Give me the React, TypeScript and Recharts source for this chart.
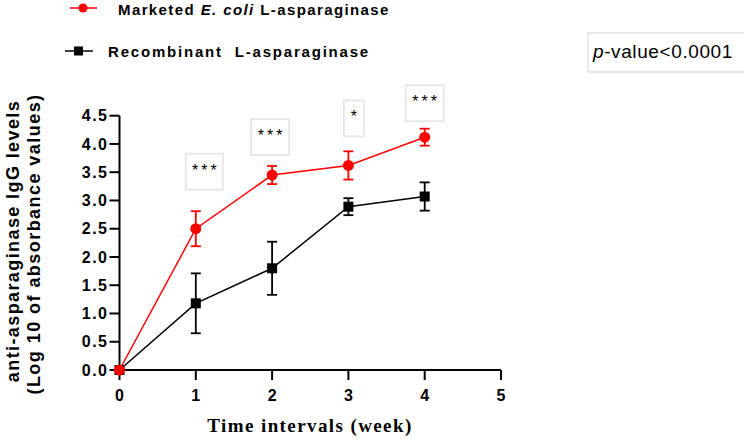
import { LineChart, Line, XAxis, YAxis, ErrorBar, LabelList } from 'recharts';

// weeks after immunisation
const weeks = [0, 1, 2, 3, 4];
const marketedMean = [0, 2.5, 3.45, 3.62, 4.12];
const marketedSd = [0, 0.31, 0.16, 0.25, 0.15];
const recombinantMean = [0, 1.18, 1.8, 2.89, 3.07];
const recombinantSd = [0, 0.53, 0.47, 0.15, 0.25];
const significance = ['', '***', '***', '*', '***'];

const xTicks = [0, 1, 2, 3, 4, 5];
const yTicks = [0, 0.5, 1, 1.5, 2, 2.5, 3, 3.5, 4, 4.5];

const data = weeks.map((week, i) => ({
  week,
  marketed: marketedMean[i],
  marketedErr: marketedSd[i],
  recombinant: recombinantMean[i],
  recombinantErr: recombinantSd[i],
  sig: significance[i],
}));

const SANS = '"Liberation Sans", Arial, sans-serif';
const SERIF = '"Liberation Serif", "Times New Roman", serif';

// where each star box sits relative to its red point
const sigBoxes: Array<{ dx: number; dy: number; w: number } | null> = [
  null,
  { dx: -10, dy: -75, w: 37 },
  { dx: -21, dy: -56, w: 38 },
  { dx: -4.5, dy: -65, w: 20 },
  { dx: -19, dy: -52, w: 38 },
];

const SigLabel = (props: any) => {
  const { value, index } = props;
  const box = sigBoxes[index];
  if (!value || !box) return null;
  const px = props.x ?? props.viewBox?.x;
  const py = props.y ?? props.viewBox?.y;
  const left = px + box.dx;
  const top = py + box.dy;
  return (
    <g>
      <rect x={left} y={top} width={box.w} height={36} fill="#fff" stroke="#e8e8e8" strokeWidth={2} />
      <text
        x={left + box.w / 2 + 1.5}
        y={top + 22}
        textAnchor="middle"
        fontFamily={SANS}
        fontSize={16}
        letterSpacing={3}
        fill="#000"
      >
        {value}
      </text>
    </g>
  );
};

const SquareDot = (props: any) => {
  const { cx, cy, index } = props;
  return <rect key={`sq-${index}`} x={cx - 5} y={cy - 5} width={10} height={10} fill="#000" />;
};

const tickStyle = { fontFamily: SANS, fontSize: 16, fontWeight: 700, fill: '#000' };

export default function App() {
  return (
    <div style={{ position: 'absolute', left: 0, top: 0, width: 744, height: 439, background: '#fff' }}>
      <LineChart
        width={744}
        height={439}
        data={data}
        margin={{ top: 115.7, right: 243, bottom: 39, left: 59.5 }}
      >
        <XAxis
          type="number"
          dataKey="week"
          domain={[0, 5]}
          ticks={xTicks}
          height={30}
          tickSize={10}
          tickMargin={10}
          axisLine={{ stroke: '#000', strokeWidth: 2 }}
          tickLine={{ stroke: '#000', strokeWidth: 2 }}
          tick={tickStyle}
        />
        <YAxis
          type="number"
          domain={[0, 4.5]}
          ticks={yTicks}
          width={60}
          tickSize={10}
          tickMargin={1}
          tickFormatter={(v: number) => v.toFixed(1)}
          axisLine={{ stroke: '#000', strokeWidth: 2 }}
          tickLine={{ stroke: '#000', strokeWidth: 2 }}
          tick={{ ...tickStyle, letterSpacing: 1.5 }}
        />
        <Line
          dataKey="recombinant"
          stroke="#000"
          strokeWidth={1.5}
          dot={SquareDot}
          activeDot={false}
          isAnimationActive={false}
        >
          <ErrorBar dataKey="recombinantErr" direction="y" width={5} stroke="#000" strokeWidth={1.8} />
        </Line>
        <Line
          dataKey="marketed"
          stroke="#ff0000"
          strokeWidth={1.5}
          dot={{ r: 5.5, fill: '#ff0000', stroke: '#ff0000', strokeWidth: 0 }}
          activeDot={false}
          isAnimationActive={false}
        >
          <ErrorBar dataKey="marketedErr" direction="y" width={5} stroke="#ff0000" strokeWidth={1.8} />
          <LabelList dataKey="sig" content={SigLabel} />
        </Line>
      </LineChart>

      {/* legend, p-value note and axis titles */}
      <svg
        width={744}
        height={439}
        style={{ position: 'absolute', left: 0, top: 0, pointerEvents: 'none' }}
      >
        <line x1={70} y1={8} x2={97} y2={8} stroke="#ff0000" strokeWidth={1.5} />
        <circle cx={83} cy={8} r={4.5} fill="#ff0000" />
        <text x={118} y={15} fontFamily={SANS} fontSize={15} fontWeight={700} letterSpacing={1.4} fill="#000">
          Marketed <tspan fontStyle="italic">E. coli</tspan> L-asparaginase
        </text>

        <line x1={65} y1={51} x2={93} y2={51} stroke="#000" strokeWidth={1.5} />
        <rect x={74} y={46.5} width={9} height={9} fill="#000" />
        <text
          x={108}
          y={57.3}
          fontFamily={SANS}
          fontSize={15}
          fontWeight={700}
          letterSpacing={1.8}
          fill="#000"
          style={{ whiteSpace: 'pre' }}
        >
          {'Recombinant  L-asparaginase'}
        </text>

        <rect x={588} y={33} width={170} height={39} fill="none" stroke="#e8e8e8" strokeWidth={2} />
        <text x={593} y={58} fontFamily={SANS} fontSize={19} letterSpacing={0.6} fill="#000">
          <tspan fontStyle="italic">p</tspan>-value&lt;0.0001
        </text>

        <text
          transform="translate(19,241) rotate(-90)"
          textAnchor="middle"
          fontFamily={SANS}
          fontSize={18}
          fontWeight={700}
          letterSpacing={1.4}
          fill="#000"
        >
          anti-asparaginase IgG levels
        </text>
        <text
          transform="translate(40,244) rotate(-90)"
          textAnchor="middle"
          fontFamily={SANS}
          fontSize={18}
          fontWeight={700}
          letterSpacing={1.45}
          fill="#000"
        >
          (Log 10 of absorbance values)
        </text>

        <text
          x={310}
          y={431.7}
          textAnchor="middle"
          fontFamily={SERIF}
          fontSize={19}
          fontWeight={700}
          letterSpacing={1.4}
          fill="#000"
        >
          Time intervals (week)
        </text>
      </svg>
    </div>
  );
}
